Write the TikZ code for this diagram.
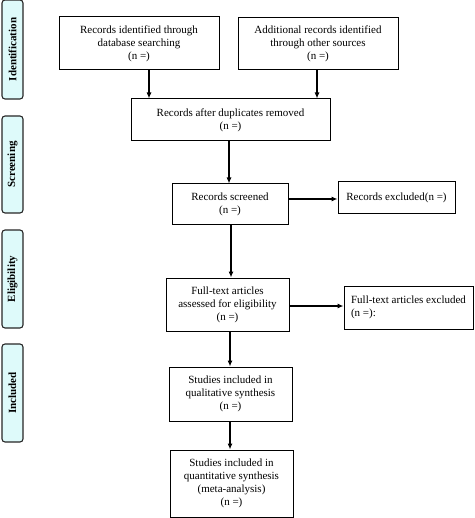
\documentclass[tikz,border=0pt]{standalone}
\usepackage{fontspec}
\setmainfont{Liberation Serif}
\usetikzlibrary{arrows.meta}
\definecolor{phasefill}{RGB}{222,250,250}
\begin{document}
\begin{tikzpicture}[x=1pt,y=-1pt,
  box/.style={draw=black,line width=1pt,fill=white,align=center,inner sep=2pt,
    font=\fontsize{11}{12.9}\selectfont},
  phase/.style={draw=black!85,line width=1.1pt,fill=phasefill,rounded corners=3pt,
    minimum width=21pt,inner sep=0pt},
  phasetext/.style={rotate=90,font=\fontsize{11}{13}\selectfont\bfseries},
  arr/.style={line width=1.1pt,-{Latex[length=6pt,width=5pt]}}]
\useasboundingbox (0,0) rectangle (474,518);
% phase labels
\node[phase,minimum height=99pt] (pid) at (12.5,49.5) {};
\node[phasetext] (tid) at (pid.center) {Identification};
\node[phase,minimum height=97pt] (psc) at (12.5,164.5) {};
\node[phasetext] (tsc) at (psc.center) {Screening};
\node[phase,minimum height=98pt] (pel) at (12.5,279) {};
\node[phasetext] (tel) at (pel.center) {Eligibility};
\node[phase,minimum height=98pt] (pin) at (12.5,393) {};
\node[phasetext] (tin) at (pin.center) {Included};
% boxes
\node[box,minimum width=160pt,minimum height=53pt] (b1) at (139,43.5)
  {Records identified through\\database searching\\(n =)};
\node[box,minimum width=160pt,minimum height=52pt] (b2) at (318,44)
  {Additional records identified\\through other sources\\(n =)};
\node[box,minimum width=199pt,minimum height=42pt] (b3) at (230.5,120)
  {Records after duplicates removed\\(n =)};
\node[box,minimum width=116pt,minimum height=41pt] (b4) at (230,204.5)
  {Records screened\\(n =)};
\node[box,minimum width=117pt,minimum height=32pt] (b5) at (396.5,198)
  {Records excluded(n =)};
\node[box,minimum width=123pt,minimum height=53pt] (b6) at (227.5,304.5)
  {Full-text articles\\assessed for eligibility\\(n =)};
\node[box,minimum width=129pt,minimum height=43pt,align=left] (b7) at (408.5,307.5)
  {Full-text articles excluded\\(n =):};
\node[box,minimum width=123pt,minimum height=54pt] (b8) at (230.5,394)
  {Studies included in\\qualitative synthesis\\(n =)};
\node[box,minimum width=123pt,minimum height=67pt] (b9) at (231.5,483.5)
  {Studies included in\\quantitative synthesis\\(meta-analysis)\\(n =)};
% connectors
\draw[arr] (b1.south -| 149,0) -- (b3.north -| 149,0);
\draw[arr] (b2.south -| 317,0) -- (b3.north -| 317,0);
\draw[arr] (b3.south -| 229,0) -- (b4.north -| 229,0);
\draw[arr] (b4.east |- 0,199) -- (b5.west |- 0,199);
\draw[arr] (b4.south -| 231,0) -- (b6.north -| 231,0);
\draw[arr] (b6.east |- 0,306) -- (b7.west |- 0,306);
\draw[arr] (b6.south -| 230,0) -- (b8.north -| 230,0);
\draw[arr] (b8.south -| 230,0) -- (b9.north -| 230,0);
\end{tikzpicture}
\end{document}
